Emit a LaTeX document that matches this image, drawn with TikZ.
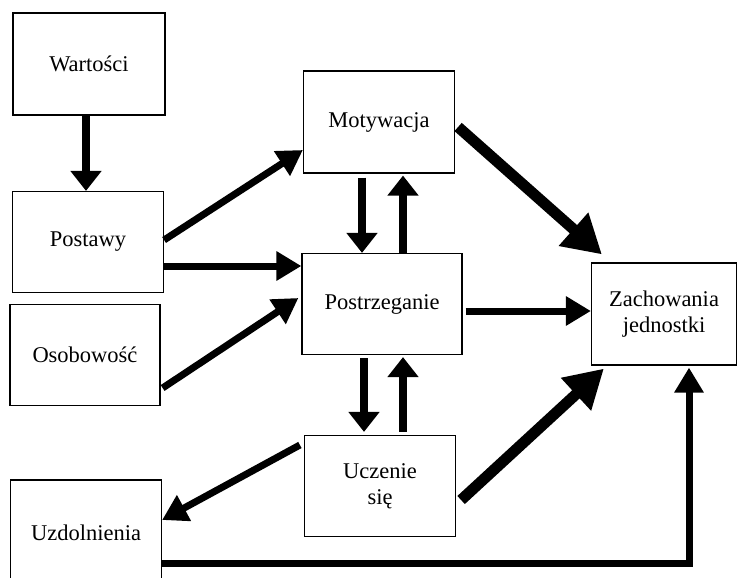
\documentclass[tikz,border=0pt]{standalone}
\usepackage{fontspec}
\setmainfont{Liberation Serif}
\usetikzlibrary{arrows.meta}
\tikzset{
  box/.style={draw, line width=1.2pt, inner sep=0pt, align=center,
    font=\fontsize{22.5}{26}\selectfont},
  thinarr/.style={line width=7pt, -{Triangle[length=25pt,width=28pt]}},
  vertarr/.style={line width=8pt, -{Triangle[length=20pt,width=30pt]}},
  thickarr/.style={line width=11pt, -{Triangle[length=38pt,width=42pt]}}
}
\begin{document}
\begin{tikzpicture}[x=1pt,y=-1pt]
  \clip (0,0) rectangle (737,578);
  % bloki
  \node[box, minimum width=152pt, minimum height=102pt] (wart) at (89,64) {Wartości};
  \node[box, minimum width=151pt, minimum height=101pt] (post) at (88,242) {Postawy};
  \node[box, minimum width=150pt, minimum height=101pt] (osob) at (85,355) {Osobowość};
  \node[box, minimum width=151pt, minimum height=102pt] (motyw) at (379,122) {Motywacja};
  \node[box, minimum width=160pt, minimum height=101pt] (postrz) at (382,304) {Postrzeganie};
  \node[box, minimum width=145pt, minimum height=102pt] (zach) at (664,314) {Zachowania\\jednostki};
  \node[box, minimum width=151pt, minimum height=101pt] (ucz) at (380,486) {Uczenie\\się};
  \node[box, minimum width=151pt, minimum height=106pt] (uzd) at (86,533) {Uzdolnienia};

  % strzałki
  \draw[vertarr] ([xshift=-3pt]wart.south) -- ([xshift=-2pt]post.north);
  \draw[thinarr] ([yshift=2pt]post.east) -- ([yshift=-28pt]motyw.west);
  \draw[thinarr] ([yshift=-24pt]post.east) -- ([yshift=-24pt]post.east -| postrz.west);
  \draw[thinarr] ([xshift=2pt,yshift=-33pt]osob.east) -- ([xshift=-3pt,yshift=6pt]postrz.west);
  \draw[vertarr] ([xshift=-17pt,yshift=-4pt]motyw.south) -- ([xshift=-20pt]postrz.north);
  \draw[vertarr] ([xshift=21pt]postrz.north) -- ([xshift=24pt,yshift=-2pt]motyw.south);
  \draw[vertarr] ([xshift=-18pt,yshift=-3pt]postrz.south) -- ([xshift=-16pt,yshift=3pt]ucz.north);
  \draw[vertarr] ([xshift=23pt,yshift=3pt]ucz.north) -- ([xshift=21pt,yshift=-2pt]postrz.south);
  \draw[thinarr] ([xshift=3pt,yshift=-7pt]postrz.east) -- ([yshift=3pt]zach.west);
  \draw[thickarr] ([xshift=3pt,yshift=-5pt]motyw.east) -- ([xshift=11pt,yshift=8pt]zach.north west);
  \draw[thickarr] ([xshift=5pt,yshift=-14pt]ucz.east) -- ([xshift=13pt,yshift=-3pt]zach.south west);
  \draw[thinarr] ([xshift=-4pt,yshift=41pt]ucz.west) -- ([yshift=13pt]uzd.east);
  \draw[thinarr] ([yshift=-30pt]uzd.east) -| ([xshift=25pt,yshift=-2pt]zach.south);
\end{tikzpicture}
\end{document}
